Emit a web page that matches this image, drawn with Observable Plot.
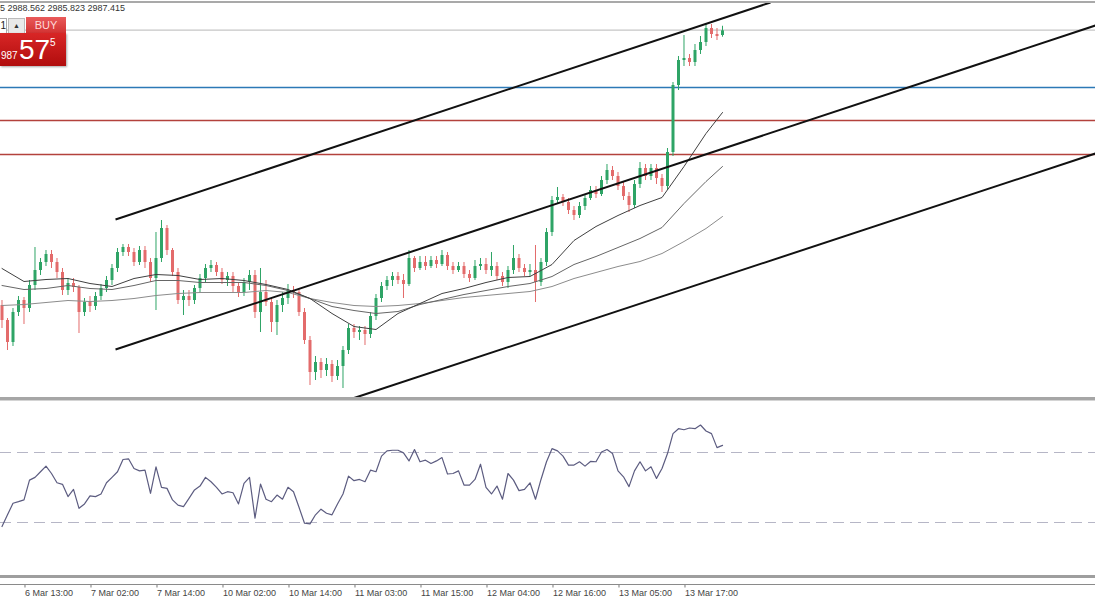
<!DOCTYPE html>
<html><head><meta charset="utf-8">
<script src="https://cdn.jsdelivr.net/npm/d3@7"></script>
<script src="https://cdn.jsdelivr.net/npm/@observablehq/plot@0.6"></script>
<style>
body{margin:0;background:#fff;font-family:"Liberation Sans",Arial,sans-serif;}
#wrap{position:relative;width:1095px;height:600px;overflow:hidden;background:#fff;}
.abs{position:absolute;}
</style></head><body><div id="wrap">
<div id="main" class="abs" style="left:0;top:0"></div>
<div id="rsi" class="abs" style="left:0;top:400px"></div>
<div class="abs" style="left:0;top:1px;width:1095px;height:2px;background:#a9a9a9"></div>
<div class="abs" style="left:0;top:397px;width:1095px;height:3px;background:#a6a6a6"></div>
<div class="abs" style="left:0;top:400px;width:1095px;height:1px;background:#d4d4d4"></div>
<div class="abs" style="left:0;top:575px;width:1095px;height:3px;background:#9e9e9e"></div>
<div class="abs" style="left:0;top:584px;width:1095px;height:1px;background:#8a8a8a"></div>
<div class="abs" style="left:0;top:3px;font-size:9px;line-height:11px;color:#333;white-space:nowrap">5 2988.562 2985.823 2987.415</div>
<div class="abs" style="left:0;top:18px;width:6px;height:14px;background:#fff;border:1px solid #aaa;border-left:none;font-size:10px;line-height:14px;text-align:right;color:#222">1</div>
<div class="abs" style="left:8px;top:18px;width:15px;height:14px;background:#e9e9e9;border:1px solid #bbb;font-size:7px;line-height:14px;text-align:center;color:#333">▲</div>
<div class="abs" style="left:26px;top:17px;width:40px;height:16px;background:linear-gradient(#e95a5a,#d33232);color:#ffd8d8;font-size:11px;line-height:16px;text-align:center">BUY</div>
<div class="abs" style="left:0;top:33px;width:66px;height:33px;background:linear-gradient(#d82626,#b10d0d);box-shadow:1px 1px 2px rgba(0,0,0,0.35)"></div>
<div class="abs" style="left:1px;top:50px;color:#fff;font-size:10px;line-height:12px">987</div>
<div class="abs" style="left:19px;top:35px;color:#fff;font-size:28px;line-height:30px">57</div>
<div class="abs" style="left:50px;top:37px;color:#fff;font-size:10px;line-height:11px">5</div>
</div>
<script>
// ---- candles (XAUUSD H1), index 0 = 6 Mar 09:00
const open = [2918.75,2915.00,2909.50,2917.00,2920.00,2918.00,2923.75,2927.50,2929.50,2931.50,
2929.50,2927.00,2922.50,2924.25,2923.25,2917.00,2919.50,2918.50,2921.00,2923.00,
2925.00,2928.00,2932.00,2933.25,2932.00,2929.50,2932.50,2929.50,2925.50,2930.50,
2938.00,2932.50,2927.00,2920.00,2921.00,2920.00,2923.00,2925.50,2928.00,2928.75,
2927.00,2925.00,2926.00,2923.50,2922.00,2924.50,2926.25,2917.00,2922.00,2919.50,
2914.50,2918.75,2920.50,2922.50,2922.00,2917.00,2910.00,2902.00,2904.50,2902.50,
2904.00,2901.00,2903.50,2907.50,2913.00,2912.00,2912.50,2911.50,2916.00,2920.50,
2923.50,2925.00,2926.00,2925.00,2924.00,2930.50,2928.00,2929.50,2928.50,2930.00,
2929.00,2931.25,2928.50,2927.50,2928.50,2926.50,2925.50,2928.50,2929.00,2927.50,
2928.50,2926.00,2924.50,2927.50,2930.50,2928.00,2927.00,2927.50,2924.50,2929.50,
2937.00,2945.00,2945.75,2944.50,2942.50,2941.25,2943.50,2945.50,2947.50,2946.50,
2950.00,2952.50,2951.00,2948.50,2946.00,2943.75,2949.00,2953.00,2951.00,2953.00,
2950.50,2948.50,2957.00,2973.75,2980.00,2980.50,2979.50,2982.50,2984.50,2988.00,
2986.50,2986.245];
const high = [2920.00,2915.50,2918.00,2921.00,2920.75,2925.00,2933.25,2930.50,2932.50,2932.50,
2930.50,2928.00,2925.50,2925.50,2923.75,2920.50,2921.00,2922.00,2924.00,2926.00,
2929.00,2933.00,2934.00,2934.00,2933.00,2933.50,2933.50,2930.50,2937.00,2940.00,
2938.75,2933.00,2928.00,2922.50,2922.50,2923.75,2926.50,2929.00,2930.00,2929.50,
2928.00,2927.00,2927.00,2924.50,2925.50,2927.50,2927.50,2928.00,2925.00,2920.50,
2920.00,2922.00,2924.00,2923.50,2923.00,2918.00,2911.00,2906.00,2905.50,2905.50,
2905.00,2905.00,2908.50,2914.00,2914.00,2913.50,2913.50,2917.00,2921.50,2924.50,
2926.00,2927.00,2927.00,2926.50,2932.50,2931.00,2931.00,2931.00,2931.00,2931.00,
2932.50,2932.00,2929.50,2929.50,2929.50,2927.50,2930.00,2930.50,2930.50,2932.00,
2929.50,2927.00,2928.50,2933.75,2931.50,2929.00,2929.00,2933.75,2930.50,2938.00,
2946.00,2948.25,2946.50,2945.50,2943.50,2944.50,2946.50,2948.50,2948.50,2951.00,
2954.00,2953.50,2952.00,2949.50,2947.00,2950.00,2954.50,2954.00,2954.00,2954.00,
2951.50,2958.00,2974.50,2981.00,2986.25,2981.50,2984.00,2986.00,2989.25,2989.00,
2988.00,2988.562];
const low = [2913.00,2907.50,2908.50,2916.00,2914.00,2917.00,2922.50,2926.25,2928.50,2928.00,
2925.50,2921.25,2921.25,2922.00,2911.75,2916.00,2917.00,2917.50,2920.00,2922.00,
2923.75,2927.00,2931.00,2931.00,2928.50,2928.75,2928.00,2924.50,2917.50,2929.50,
2931.25,2926.00,2919.00,2916.25,2918.50,2919.00,2922.00,2924.50,2927.00,2926.00,
2924.00,2923.50,2922.00,2920.75,2921.00,2922.50,2915.50,2912.00,2918.50,2912.00,
2911.25,2917.00,2919.00,2920.50,2916.00,2909.00,2898.75,2900.00,2900.50,2901.00,
2899.50,2900.00,2898.00,2906.50,2910.50,2910.00,2908.75,2910.50,2915.00,2919.50,
2922.50,2923.50,2924.00,2920.50,2923.50,2927.00,2927.50,2927.50,2928.00,2928.00,
2928.50,2927.50,2926.50,2927.00,2925.50,2924.50,2925.00,2927.50,2926.50,2926.00,
2925.00,2923.50,2923.00,2926.50,2927.00,2926.00,2926.00,2919.50,2923.50,2928.50,
2936.00,2944.00,2943.50,2941.50,2940.00,2940.50,2942.50,2945.00,2945.50,2946.00,
2949.00,2950.00,2947.50,2945.00,2942.00,2943.00,2948.00,2950.00,2950.00,2949.00,
2947.00,2947.50,2956.00,2972.50,2978.50,2978.50,2978.50,2981.50,2983.50,2985.50,
2985.00,2985.823];
const close = [2915.00,2909.50,2917.00,2920.00,2918.00,2923.75,2927.50,2929.50,2931.50,2929.50,
2927.00,2922.50,2924.25,2923.25,2917.00,2919.50,2918.50,2921.00,2923.00,2925.00,
2928.00,2932.00,2933.25,2932.00,2929.50,2932.50,2929.50,2925.50,2930.50,2938.00,
2932.50,2927.00,2920.00,2921.00,2920.00,2923.00,2925.50,2928.00,2928.75,2927.00,
2925.00,2926.00,2923.50,2922.00,2924.50,2926.25,2917.00,2922.00,2919.50,2914.50,
2918.75,2920.50,2922.50,2922.00,2917.00,2910.00,2902.00,2904.50,2902.50,2904.00,
2901.00,2903.50,2907.50,2913.00,2912.00,2912.50,2911.50,2916.00,2920.50,2923.50,
2925.00,2926.00,2925.00,2924.00,2930.50,2928.00,2929.50,2928.50,2930.00,2929.00,
2931.25,2928.50,2927.50,2928.50,2926.50,2925.50,2928.50,2929.00,2927.50,2928.50,
2926.00,2924.50,2927.50,2930.50,2928.00,2927.00,2927.50,2924.50,2929.50,2937.00,
2945.00,2945.75,2944.50,2942.50,2941.25,2943.50,2945.50,2947.50,2946.50,2950.00,
2952.50,2951.00,2948.50,2946.00,2943.75,2949.00,2953.00,2951.00,2953.00,2950.50,
2948.50,2957.00,2973.75,2980.00,2980.50,2979.50,2982.50,2984.50,2988.00,2986.50,
2986.00,2987.415];

// ---- moving averages, sampled at these bar indices
const maIdx = [0,4,8,12,16,20,24,28,32,36,40,44,48,52,56,60,64,68,72,76,80,84,88,92,96,100,104,108,112,116,120,124,128,131];
const maFast = [2928.00,2924.75,2925.25,2925.50,2924.25,2923.50,2925.50,2926.50,2926.25,2925.25,2925.50,2925.00,2924.00,2922.75,2920.50,2916.75,2913.50,2912.75,2916.75,2919.25,2921.75,2923.00,2924.50,2925.75,2926.00,2929.00,2935.00,2938.50,2941.25,2943.75,2945.75,2953.50,2961.75,2967.00];
const maMid = [2923.75,2922.75,2923.00,2923.75,2923.00,2922.75,2923.75,2925.00,2925.00,2924.50,2924.50,2924.50,2923.75,2922.50,2920.50,2918.50,2917.50,2916.75,2917.25,2919.00,2920.25,2921.50,2922.50,2923.50,2924.25,2926.00,2929.00,2931.00,2933.25,2935.50,2938.25,2944.25,2949.75,2953.50];
const maSlow = [2918.75,2919.00,2919.50,2920.00,2919.75,2920.00,2920.50,2921.25,2921.75,2922.00,2922.00,2922.00,2922.50,2922.00,2920.50,2919.50,2918.75,2918.50,2918.75,2919.25,2920.00,2920.75,2921.25,2921.75,2922.25,2923.50,2925.50,2927.00,2928.50,2929.75,2931.75,2934.75,2938.00,2941.00];

// ---- RSI per bar
const rsi = [27.7,34.4,41.0,41.9,42.9,54.2,55.8,59.0,62.2,58.0,
52.7,51.8,44.8,48.9,38.1,40.6,45.2,44.8,46.3,52.7,
55.8,59.0,66.0,66.4,60.9,59.5,59.9,46.7,61.8,50.1,
49.5,42.9,39.9,39.1,43.8,48.6,50.8,55.8,53.3,50.1,
46.3,47.6,47.0,40.6,52.4,55.8,32.5,52.0,43.3,41.9,
45.7,43.3,50.1,47.6,38.7,29.6,29.2,34.4,37.6,35.3,
34.4,40.6,46.3,56.5,53.9,54.6,53.3,59.9,59.0,67.9,
70.9,71.3,71.3,69.8,65.2,71.7,64.7,65.6,63.7,65.2,
67.1,57.7,58.0,59.5,51.4,51.4,54.6,63.3,50.1,46.3,
50.8,43.3,58.0,54.2,48.2,48.9,52.7,43.3,54.6,64.7,
72.2,70.9,67.9,62.8,62.8,64.7,62.2,64.9,64.7,70.3,
71.7,69.4,59.5,56.1,50.5,59.5,64.7,59.5,61.8,55.2,
60.9,69.4,80.8,83.6,83.0,84.0,83.6,85.7,82.3,80.8,
72.8,74.1];
const rsiLevels = [30, 70];

// ---- horizontal levels and channel
const bidLevel = [2987.6];
const blueLevels = [2973.25];
const redLevels = [2965.0, 2956.5];
const chanStartIdx = [20.64, 20.64, 63.73];
const chanStartPrice = [2940.25, 2907.75, 2895.5];
const chanEndIdx = [139.73, 198.82, 198.82];
const chanEndPrice = [2994.5, 2988.75, 2956.75];

// ---- time axis
const tickIdx = [4,16,28,40,52,64,76,88,100,112,124];
const tickLabels = ["6 Mar 13:00","7 Mar 02:00","7 Mar 14:00","10 Mar 02:00","10 Mar 14:00","11 Mar 03:00","11 Mar 15:00","12 Mar 04:00","12 Mar 16:00","13 Mar 05:00","13 Mar 17:00"];

const xDomain = [-0.2727, 198.8182];
const bars = close.map((c, i) => ({i, o: open[i], h: high[i], l: low[i], c}));
const up = bars.filter(d => d.c >= d.o);
const dn = bars.filter(d => d.c < d.o);
const ma = (vals) => maIdx.map((x, k) => ({x, y: vals[k]}));
const chans = chanStartIdx.map((x1, k) => ({x1, y1: chanStartPrice[k], x2: chanEndIdx[k], y2: chanEndPrice[k]}));
const GREEN = "#2ea466", RED = "#e36b6b";

const mainChart = Plot.plot({
  width: 1095, height: 400,
  marginTop: 0, marginBottom: 0, marginLeft: 0, marginRight: 0,
  style: {background: "transparent", overflow: "hidden"},
  x: {domain: xDomain, range: [0, 1095], axis: null},
  y: {domain: [2895.5, 2995], range: [398, 0], axis: null},
  marks: [
    Plot.ruleY(bidLevel, {stroke: "#b8b8b8", strokeWidth: 1}),
    Plot.ruleY(blueLevels, {stroke: "#2c79b6", strokeWidth: 1.5}),
    Plot.ruleY(redLevels, {stroke: "#b3423c", strokeWidth: 1.3}),
    Plot.ruleX(up, {x: "i", y1: "l", y2: "h", stroke: GREEN, strokeWidth: 1}),
    Plot.ruleX(dn, {x: "i", y1: "l", y2: "h", stroke: RED, strokeWidth: 1}),
    Plot.ruleX(up, {x: "i", y1: "o", y2: "c", stroke: GREEN, strokeWidth: 3}),
    Plot.ruleX(dn, {x: "i", y1: "o", y2: "c", stroke: RED, strokeWidth: 3}),
    Plot.line(ma(maSlow), {x: "x", y: "y", stroke: "#8c8c8c", strokeWidth: 1}),
    Plot.line(ma(maMid), {x: "x", y: "y", stroke: "#666", strokeWidth: 1}),
    Plot.line(ma(maFast), {x: "x", y: "y", stroke: "#404040", strokeWidth: 1}),
    Plot.link(chans, {x1: "x1", y1: "y1", x2: "x2", y2: "y2", stroke: "#111", strokeWidth: 2, clip: true})
  ]
});
document.getElementById("main").appendChild(mainChart);

const rsiChart = Plot.plot({
  width: 1095, height: 200,
  marginTop: 0, marginBottom: 15.5, marginLeft: 0, marginRight: 0,
  style: {background: "transparent", fontFamily: "Liberation Sans, Arial, sans-serif", fontSize: "9px", color: "#444", overflow: "visible"},
  x: {domain: xDomain, range: [0, 1095]},
  y: {domain: [0, 100], range: [174.5, -0.5], axis: null},
  marks: [
    Plot.ruleY(rsiLevels, {stroke: "#b6b6c6", strokeWidth: 1, strokeDasharray: "11,6"}),
    Plot.line(rsi, {x: (d, i) => i, y: d => d, stroke: "#5c5c80", strokeWidth: 1.2}),
    Plot.axisX({ticks: tickIdx, tickFormat: d => tickLabels[tickIdx.indexOf(d)], tickSize: 3, tickPadding: 2, textAnchor: "start", dx: 1, anchor: "bottom", stroke: "#777", fill: "#444", fontSize: 9})
  ]
});
document.getElementById("rsi").appendChild(rsiChart);
</script>
</body></html>
